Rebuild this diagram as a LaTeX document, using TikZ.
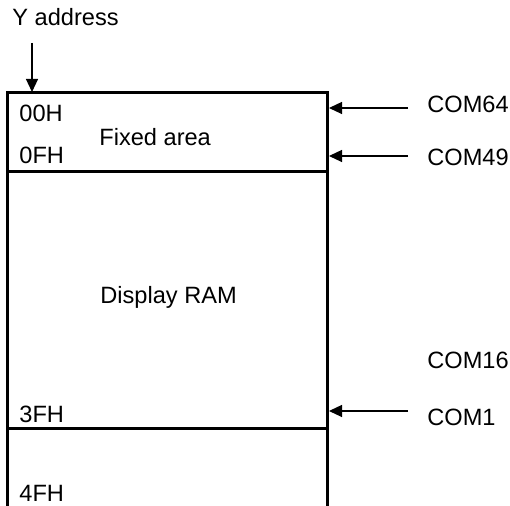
\documentclass[tikz,border=0pt]{standalone}
\usepackage{fontspec}
\setmainfont{Liberation Sans}
\usetikzlibrary{arrows.meta, positioning}

\begin{document}
\begin{tikzpicture}[
  x=0.5pt, y=-0.5pt,
  lbl/.style={inner sep=0pt, anchor=base west, font=\fontsize{11.8}{14}\selectfont},
  wall/.style={line width=1.5pt},
  feed/.style={-{Triangle[length=6.5pt, width=6pt]}, line width=0.6pt}
]
  \useasboundingbox (0,0) rectangle (510,506);

  % memory map frame
  \draw[wall] (7.5,506) -- (7.5,93) -- (327.5,93) -- (327.5,506);
  \draw[wall] (7.5,171.5) -- (327.5,171.5);
  \draw[wall] (7.5,429) -- (327.5,429);

  % address labels
  \node[lbl] (yaddr) at (12,26) {Y address};
  \node[lbl] (a00) at (19,122) {00H};
  \node[lbl] (a0f) at (19,164) {0FH};
  \node[lbl] (a3f) at (19,423) {3FH};
  \node[lbl] (a4f) at (19,502) {4FH};
  \node[lbl] (fixed) at (99,146) {Fixed area};
  \node[lbl] (dram) at (100,304) {Display RAM};

  % common lines
  \node[lbl] (com64) at (427,113) {COM64};
  \node[lbl] (com49) at (427,166) {COM49};
  \node[lbl] (com16) at (427,369) {COM16};
  \node[lbl] (com1) at (427,426) {COM1};

  \coordinate (ytop) at (32,43);
  \coordinate (ybox) at (32,92);
  \coordinate (s64) at (408,108);
  \coordinate (e64) at (329,108);
  \coordinate (s49) at (408,156);
  \coordinate (e49) at (329,156);
  \coordinate (s1) at (408,411);
  \coordinate (e1) at (329,411);

  \draw[feed] (ytop) -- (ybox);
  \draw[feed] (s64) -- (e64);
  \draw[feed] (s49) -- (e49);
  \draw[feed] (s1) -- (e1);
\end{tikzpicture}
\end{document}
